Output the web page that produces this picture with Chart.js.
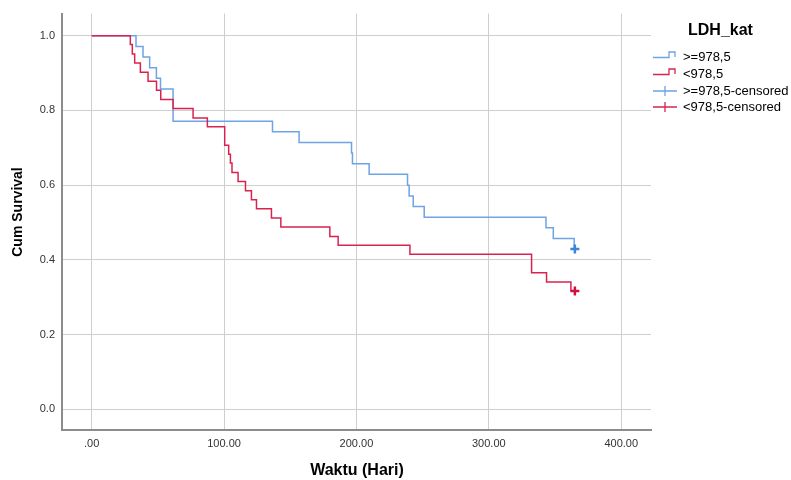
<!DOCTYPE html>
<html>
<head>
<meta charset="utf-8">
<script src="https://cdn.jsdelivr.net/npm/chart.js@4.4.0/dist/chart.umd.min.js"></script>
<style>
  body { margin: 0; background: #fff; }
  #wrap { width: 791px; height: 480px; position: relative; }
</style>
</head>
<body>
<div id="wrap"><canvas id="kmChart"></canvas></div>
<script>
// Kaplan-Meier steps
const highTimes = [0, 33.5, 38.8, 43.8, 48.9, 52, 61.5, 136.6, 156.7, 196.3, 197, 209.6, 238.6, 239.8, 242.9, 251.2, 343.2, 348.7, 364.5];
const highSurv  = [1.0, 0.971, 0.943, 0.914, 0.886, 0.857, 0.771, 0.743, 0.714, 0.686, 0.657, 0.629, 0.600, 0.571, 0.543, 0.514, 0.486, 0.457, 0.429];

const lowTimes = [0, 29.2, 30.7, 32.5, 36.8, 42.6, 49.0, 52.2, 61.5, 76.6, 87.4, 100.5, 103.5, 104.8, 106, 110.6, 116.2, 120.7, 124.5, 135.8, 142.9, 179.9, 186.2, 240.4, 332.3, 343.6, 362];
const lowSurv  = [1.0, 0.976, 0.951, 0.927, 0.902, 0.878, 0.854, 0.829, 0.805, 0.780, 0.756, 0.707, 0.683, 0.659, 0.634, 0.610, 0.585, 0.561, 0.537, 0.512, 0.488, 0.463, 0.439, 0.415, 0.366, 0.341, 0.317];

const highCensTimes = [365];
const highCensSurv  = [0.429];
const lowCensTimes  = [365];
const lowCensSurv   = [0.317];

const xTickValues = [0, 100, 200, 300, 400];
const yTickValues = [0, 0.2, 0.4, 0.6, 0.8, 1.0];

const legendTitle = "LDH_kat";
const legendLabels = [">=978,5", "<978,5", ">=978,5-censored", "<978,5-censored"];

const BLUE = "#6ea3e6";
const RED = "#d9234f";
const BLUE_DARK = "#3b86d8";
const RED_DARK = "#d0103f";
const FONT = "'Liberation Sans', Arial, sans-serif";

function toPoints(xs, ys) {
    return xs.map((x, i) => ({ x: x, y: ys[i] }));
}

const extraText = {
    id: "extraText",
    afterDraw(chart) {
        const ctx = chart.ctx;
        ctx.save();
        ctx.fillStyle = "#000";

        // axis titles
        ctx.font = "bold 16px " + FONT;
        ctx.textAlign = "center";
        ctx.textBaseline = "middle";
        ctx.fillText("Waktu (Hari)", 357, 471);

        ctx.save();
        ctx.translate(18, 212);
        ctx.rotate(-Math.PI / 2);
        ctx.font = "bold 14px " + FONT;
        ctx.fillText("Cum Survival", 0, 0);
        ctx.restore();

        // legend
        ctx.textAlign = "left";
        ctx.font = "bold 16px " + FONT;
        ctx.fillText(legendTitle, 688, 31);

        ctx.font = "13px " + FONT;
        const rows = [57, 74, 91, 107];
        const colors = [BLUE, RED, BLUE, RED];
        rows.forEach((y, i) => {
            ctx.strokeStyle = colors[i];
            ctx.lineWidth = 1.3;
            ctx.beginPath();
            if (i < 2) {
                ctx.moveTo(653, y + 0.5);
                ctx.lineTo(669, y + 0.5);
                ctx.lineTo(669, y - 5);
                ctx.lineTo(675, y - 5);
                ctx.lineTo(675, y);
            } else {
                ctx.moveTo(653, y);
                ctx.lineTo(677, y);
                ctx.moveTo(665, y - 5);
                ctx.lineTo(665, y + 5);
            }
            ctx.stroke();
            ctx.fillStyle = "#000";
            ctx.fillText(legendLabels[i], 683, y + 0.5);
        });
        ctx.restore();
    }
};

const ctx = document.getElementById("kmChart").getContext("2d");

const chart = new Chart(ctx, {
    type: "line",
    data: {
        datasets: [
            {
                label: legendLabels[1],
                data: toPoints(lowTimes, lowSurv),
                borderColor: RED,
                borderWidth: 1.5,
                stepped: true,
                pointRadius: 0,
                fill: false,
                order: 1
            },
            {
                label: legendLabels[0],
                data: toPoints(highTimes, highSurv),
                borderColor: BLUE,
                borderWidth: 1.5,
                stepped: true,
                pointRadius: 0,
                fill: false,
                order: 2
            },
            {
                label: legendLabels[2],
                data: toPoints(highCensTimes, highCensSurv),
                showLine: false,
                pointStyle: "cross",
                pointRadius: 4.5,
                pointBorderWidth: 2.5,
                pointBorderColor: BLUE_DARK,
                order: 0
            },
            {
                label: legendLabels[3],
                data: toPoints(lowCensTimes, lowCensSurv),
                showLine: false,
                pointStyle: "cross",
                pointRadius: 4.5,
                pointBorderWidth: 2.5,
                pointBorderColor: RED_DARK,
                order: 0
            }
        ]
    },
    options: {
        responsive: true,
        maintainAspectRatio: false,
        animation: false,
        events: [],
        layout: { padding: { left: 0, top: 13, right: 140, bottom: 0 } },
        plugins: {
            legend: { display: false },
            tooltip: { enabled: false }
        },
        scales: {
            x: {
                type: "linear",
                min: -22.4,
                max: 422.5,
                afterFit: s => { s.height = 50; },
                afterBuildTicks: s => { s.ticks = xTickValues.map(v => ({ value: v })); },
                grid: { color: "#cfcfcf", lineWidth: 1, drawTicks: false },
                border: { color: "#8c8c8c", width: 2 },
                ticks: {
                    padding: 7,
                    color: "#333",
                    font: { family: FONT, size: 11 },
                    maxRotation: 0,
                    callback: v => v === 0 ? ".00" : v.toFixed(2)
                }
            },
            y: {
                type: "linear",
                min: -0.055,
                max: 1.059,
                afterFit: s => { s.width = 62; },
                afterBuildTicks: s => { s.ticks = yTickValues.map(v => ({ value: v })); },
                grid: { color: "#cfcfcf", lineWidth: 1, drawTicks: false },
                border: { color: "#8c8c8c", width: 2 },
                ticks: {
                    padding: 7,
                    color: "#333",
                    font: { family: FONT, size: 11 },
                    callback: v => v.toFixed(1)
                }
            }
        }
    },
    plugins: [extraText]
});
</script>
</body>
</html>
